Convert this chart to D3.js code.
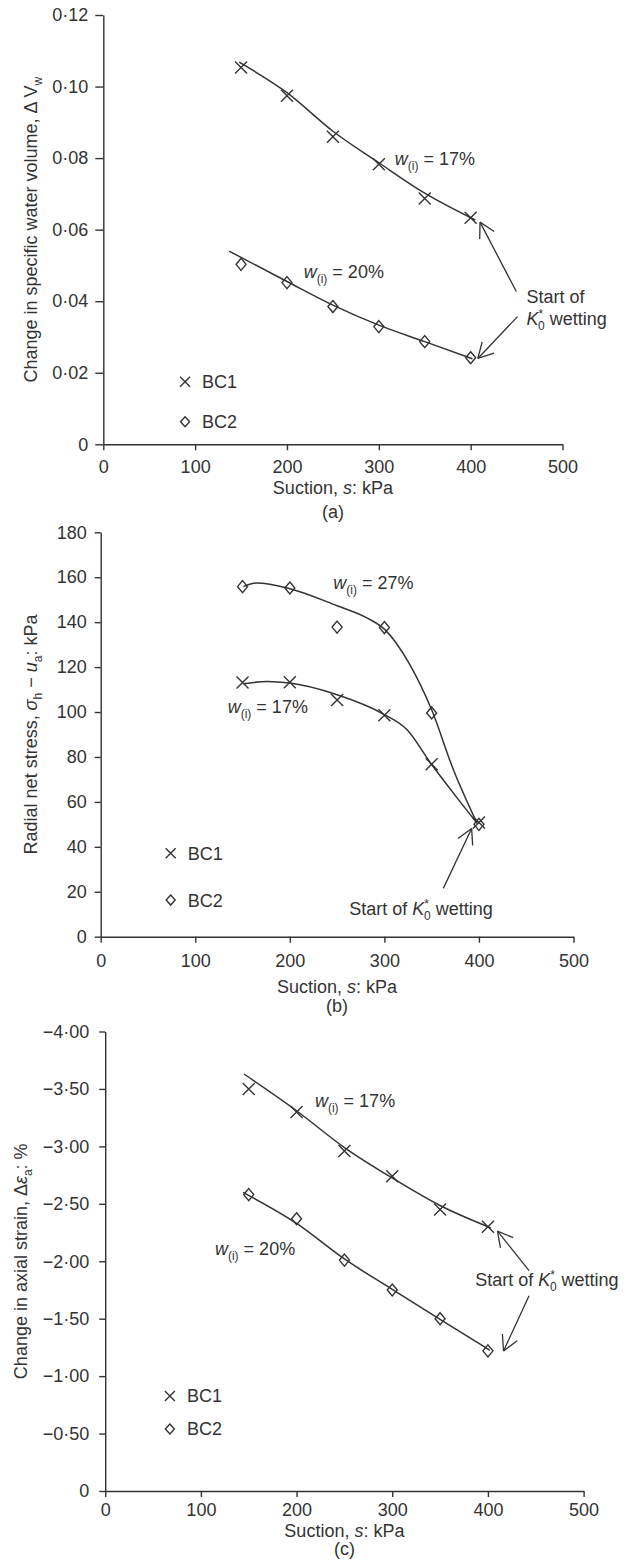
<!DOCTYPE html>
<html>
<head>
<meta charset="utf-8">
<script src="https://cdn.jsdelivr.net/npm/d3@7"></script>
<style>
  body { margin: 0; background: #fff; }
  text { font-family: "Liberation Sans", Arial, Helvetica, sans-serif; font-size: 18px; fill: #333; }
</style>
</head>
<body>
<div id="chart"></div>
<script>
// suction values (kPa), same for all tests
var suction = [150, 200, 250, 300, 350, 400];

// (a) change in specific water volume
var dVwBC1 = [0.1053, 0.0974, 0.0860, 0.0783, 0.0687, 0.0633];
var dVwBC2 = [0.0503, 0.0452, 0.0385, 0.0329, 0.0287, 0.0242];
var fitA17S = [148, 200, 250, 300, 350, 405];
var fitA17V = [0.1068, 0.0983, 0.0875, 0.0787, 0.0702, 0.0627];
var fitA20S = [137, 200, 250, 300, 350, 402];
var fitA20V = [0.0540, 0.0455, 0.0389, 0.0333, 0.0287, 0.0239];

// (b) radial net stress
var sigmaBC1 = [113.1, 113.3, 105.4, 98.6, 76.8, 50.8];
var sigmaBC2 = [155.8, 155.2, 137.8, 137.6, 99.6, 50.0];
var fitB27S = [151, 165, 200, 250, 282, 300, 326, 350, 373, 398];
var fitB27V = [155.9, 157.4, 154.9, 147.3, 141.8, 136.9, 121.8, 101.0, 74.3, 50.5];
var fitB17S = [151, 176, 200, 250, 299, 324, 349, 373, 398];
var fitB17V = [112.6, 113.6, 112.9, 107.7, 99.1, 92.1, 77.2, 63.9, 50.5];

// (c) change in axial strain
var strainBC1 = [-3.50, -3.30, -2.96, -2.74, -2.45, -2.30];
var strainBC2 = [-2.58, -2.37, -2.01, -1.75, -1.50, -1.22];
var fitC17S = [145, 200, 250, 300, 350, 403];
var fitC17V = [-3.63, -3.31, -2.99, -2.725, -2.485, -2.29];
var fitC20S = [144, 200, 250, 300, 350, 402];
var fitC20V = [-2.60, -2.33, -2.02, -1.755, -1.495, -1.225];

// ticks
var xTicks = [0, 100, 200, 300, 400, 500];
var yTicksA = [0, 0.02, 0.04, 0.06, 0.08, 0.10, 0.12];
var yLabelsA = ["0", "0·02", "0·04", "0·06", "0·08", "0·10", "0·12"];
var yTicksB = [0, 20, 40, 60, 80, 100, 120, 140, 160, 180];
var yLabelsB = ["0", "20", "40", "60", "80", "100", "120", "140", "160", "180"];
var yTicksC = [0, -0.5, -1, -1.5, -2, -2.5, -3, -3.5, -4];
var yLabelsC = ["0", "−0·50", "−1·00", "−1·50", "−2·00", "−2·50", "−3·00", "−3·50", "−4·00"];

var INK = "#333";

var svg = d3.select("#chart").append("svg")
  .attr("width", 635).attr("height", 1562);

// text with italic / sub / sup parts
function richText(g, x, y, parts, anchor, transform) {
  var t = g.append("text").attr("x", x).attr("y", y)
    .attr("text-anchor", anchor || "start");
  if (transform) t.attr("transform", transform);
  var shift = 0;
  parts.forEach(function (p) {
    var want = p.sub ? 5 : (p.sup ? -7 : 0);
    var ts = t.append("tspan").text(p.t).attr("dy", want - shift);
    if (p.dx) ts.attr("dx", p.dx);
    if (p.sub || p.sup) ts.style("font-size", "12px");
    if (p.i) ts.style("font-style", "italic");
    shift = want;
  });
  return t;
}

function arrow(g, x1, y1, x2, y2) {
  // x1,y1 tail -> x2,y2 tip, open head
  var ang = Math.atan2(y1 - y2, x1 - x2);
  var len = 17, spread = 0.5;
  g.append("line").attr("x1", x1).attr("y1", y1).attr("x2", x2).attr("y2", y2)
    .attr("stroke", INK).attr("stroke-width", 1.3);
  [-spread, spread].forEach(function (d) {
    g.append("line").attr("x1", x2).attr("y1", y2)
      .attr("x2", x2 + len * Math.cos(ang + d)).attr("y2", y2 + len * Math.sin(ang + d))
      .attr("stroke", INK).attr("stroke-width", 1.3);
  });
}

var crossPath = "M-6,-6L6,6M-6,6L6,-6";
var diamondPath = "M0,-6L5,0L0,6L-5,0Z";

function wLabel(pct) {
  return [{ t: "w", i: true }, { t: "(i)", sub: true }, { t: " = " + pct }];
}
var startParts = [{ t: "K", i: true }, { t: "*", sup: true }, { t: "0", sub: true, dx: -5 }, { t: " wetting" }];

var panels = [
  {
    x0: 103.3, x1: 562.5, yTop: 15, yBot: 444.3, yDomain: [0, 0.12],
    yTicks: yTicksA, yLabels: yLabelsA, tickY: 8, tickX: 6, padX: 10, padY: 7,
    ylabX: 37, xlabY: 494, tagY: 518, tag: "(a)",
    ylabel: [{ t: "Change in specific water volume, Δ V" }, { t: "w", sub: true }],
    bc1: dVwBC1, bc2: dVwBC2,
    fits: [[fitA17S, fitA17V], [fitA20S, fitA20V]],
    notes: [[317.4, 0.0781, wLabel("17%")], [218.2, 0.0464, wLabel("20%")]],
    arrows: [[449.7, 0.0427, 410.2, 0.0621], [451, 0.0357, 407.8, 0.0240]],
    start: [[460.7, 0.0395, [{ t: "Start of" }]], [460.7, 0.0333, startParts]],
    legend: [89, 0.0175, 0.0063]
  },
  {
    x0: 100.7, x1: 573.5, yTop: 532.3, yBot: 936.7, yDomain: [0, 180],
    yTicks: yTicksB, yLabels: yLabelsB, tickY: 6, tickX: 6, padX: 12, padY: 8,
    ylabX: 37, xlabY: 993, tagY: 1012, tag: "(b)",
    ylabel: [{ t: "Radial net stress, " }, { t: "σ", i: true }, { t: "h", sub: true }, { t: " − " },
             { t: "u", i: true }, { t: "a", sub: true }, { t: ": kPa" }],
    bc1: sigmaBC1, bc2: sigmaBC2,
    fits: [[fitB27S, fitB27V], [fitB17S, fitB17V]],
    notes: [[246, 154.6, wLabel("27%")], [134.3, 99.4, wLabel("17%")]],
    arrows: [[362.3, 21.5, 392.3, 48.2]],
    start: [[262.9, 9.7, [{ t: "Start of " }].concat(startParts)]],
    legend: [74, 37.1, 16.3]
  },
  {
    x0: 105.2, x1: 583.6, yTop: 1031.5, yBot: 1491, yDomain: [0, -4],
    yTicks: yTicksC, yLabels: yLabelsC, tickY: 6, tickX: 6, padX: 6, padY: 10,
    ylabX: 27, xlabY: 1537, tagY: 1555, tag: "(c)",
    ylabel: [{ t: "Change in axial strain, Δ" }, { t: "ε", i: true }, { t: "a", sub: true }, { t: ": %" }],
    bc1: strainBC1, bc2: strainBC2,
    fits: [[fitC17S, fitC17V], [fitC20S, fitC20V]],
    notes: [[219.2, -3.345, wLabel("17%")], [114.7, -2.054, wLabel("20%")]],
    arrows: [[443, -1.919, 410, -2.262], [443, -1.70, 416.3, -1.219]],
    start: [[386.7, -1.785, [{ t: "Start of " }].concat(startParts)]],
    legend: [67.6, -0.827, -0.540]
  }
];

panels.forEach(function (p) {
  var g = svg.append("g");
  var x = d3.scaleLinear().domain([0, 500]).range([p.x0, p.x1]);
  var y = d3.scaleLinear().domain(p.yDomain).range([p.yBot, p.yTop]);

  // axes
  var xAxis = d3.axisBottom(x).tickValues(xTicks).tickSizeInner(p.tickX).tickSizeOuter(0).tickPadding(p.padX);
  var yAxis = d3.axisLeft(y).tickValues(p.yTicks).tickSizeInner(p.tickY).tickSizeOuter(0).tickPadding(p.padY)
    .tickFormat(function (d, i) { return p.yLabels[i]; });

  var gx = g.append("g").attr("transform", "translate(0," + p.yBot + ")").call(xAxis);
  var gy = g.append("g").attr("transform", "translate(" + p.x0 + ",0)").call(yAxis);
  [gx, gy].forEach(function (a) {
    a.selectAll("path, line").attr("stroke", INK).attr("stroke-width", 1.4);
    a.selectAll("text").attr("fill", INK).style("font-size", "18px")
      .style("font-family", '"Liberation Sans", Arial, sans-serif');
  });

  // axis titles
  var cx = (p.x0 + p.x1) / 2, cy = (p.yTop + p.yBot) / 2;
  richText(g, cx, p.xlabY, [{ t: "Suction, " }, { t: "s", i: true }, { t: ": kPa" }], "middle");
  g.append("text").attr("x", cx).attr("y", p.tagY).attr("text-anchor", "middle").text(p.tag);
  richText(g, 0, 0, p.ylabel, "middle", "translate(" + p.ylabX + "," + cy + ") rotate(-90)");

  // fitted curves
  var line = d3.line()
    .x(function (d) { return x(d[0]); })
    .y(function (d) { return y(d[1]); })
    .curve(d3.curveMonotoneX);
  p.fits.forEach(function (f) {
    var pts = f[0].map(function (s, i) { return [s, f[1][i]]; });
    g.append("path").datum(pts).attr("d", line)
      .attr("fill", "none").attr("stroke", INK).attr("stroke-width", 1.5);
  });

  // markers
  g.selectAll(".bc1").data(suction).enter().append("path")
    .attr("transform", function (s, i) { return "translate(" + x(s) + "," + y(p.bc1[i]) + ")"; })
    .attr("d", crossPath).attr("fill", "none").attr("stroke", INK).attr("stroke-width", 1.4);
  g.selectAll(".bc2").data(suction).enter().append("path")
    .attr("transform", function (s, i) { return "translate(" + x(s) + "," + y(p.bc2[i]) + ")"; })
    .attr("d", diamondPath).attr("fill", "none").attr("stroke", INK).attr("stroke-width", 1.4);

  // labels on curves
  p.notes.forEach(function (n) { richText(g, x(n[0]), y(n[1]), n[2]); });

  // arrows + start text
  p.arrows.forEach(function (a) { arrow(g, x(a[0]), y(a[1]), x(a[2]), y(a[3])); });
  p.start.forEach(function (s) { richText(g, x(s[0]), y(s[1]), s[2]); });

  // legend
  var lx = x(p.legend[0]);
  g.append("path").attr("transform", "translate(" + lx + "," + y(p.legend[1]) + ")")
    .attr("d", "M-5,-5L5,5M-5,5L5,-5").attr("fill", "none").attr("stroke", INK).attr("stroke-width", 1.4);
  g.append("text").attr("x", lx + 17).attr("y", y(p.legend[1]) + 6.5).text("BC1");
  g.append("path").attr("transform", "translate(" + lx + "," + y(p.legend[2]) + ")")
    .attr("d", "M0,-5L4.5,0L0,5L-4.5,0Z").attr("fill", "none").attr("stroke", INK).attr("stroke-width", 1.4);
  g.append("text").attr("x", lx + 17).attr("y", y(p.legend[2]) + 6.5).text("BC2");
});
</script>
</body>
</html>
